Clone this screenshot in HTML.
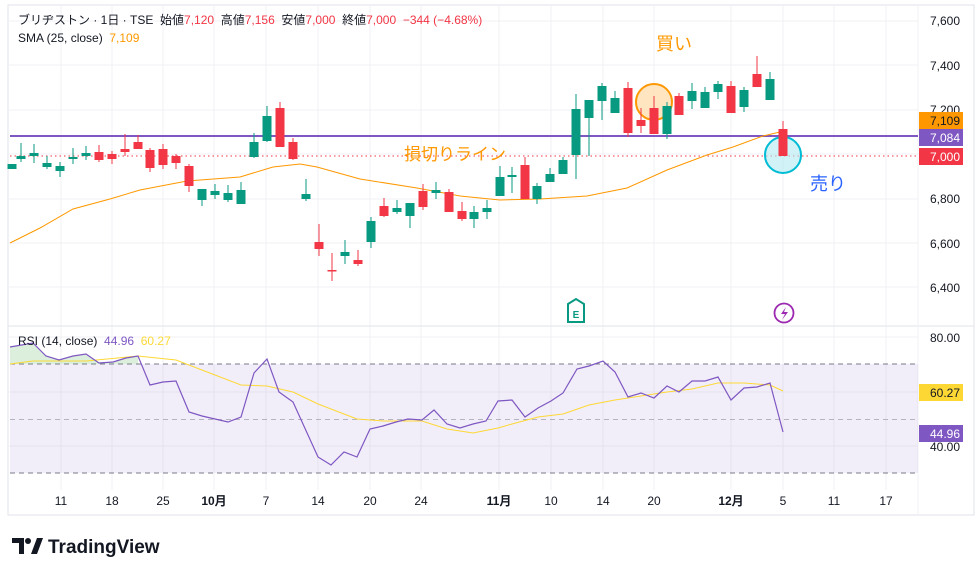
<!DOCTYPE html>
<html><head><meta charset="utf-8"><style>
body{margin:0;background:#fff;width:980px;height:575px;overflow:hidden;font-family:"Liberation Sans","Noto Sans CJK JP",sans-serif}
svg{position:absolute;left:0;top:0}
text{white-space:pre}
</style></head><body>
<svg width="980" height="575" xmlns="http://www.w3.org/2000/svg" font-family="Liberation Sans, Noto Sans CJK JP, sans-serif">
<rect x="8" y="5" width="966" height="510" fill="#fff" stroke="#e0e3eb"/>
<g stroke="#f0f1f4" stroke-width="1">
<line x1="61" y1="5" x2="61" y2="490"/><line x1="112" y1="5" x2="112" y2="490"/><line x1="163" y1="5" x2="163" y2="490"/><line x1="214" y1="5" x2="214" y2="490"/><line x1="266" y1="5" x2="266" y2="490"/><line x1="318" y1="5" x2="318" y2="490"/><line x1="370" y1="5" x2="370" y2="490"/><line x1="421" y1="5" x2="421" y2="490"/><line x1="499" y1="5" x2="499" y2="490"/><line x1="551" y1="5" x2="551" y2="490"/><line x1="603" y1="5" x2="603" y2="490"/><line x1="654" y1="5" x2="654" y2="490"/><line x1="731" y1="5" x2="731" y2="490"/><line x1="783" y1="5" x2="783" y2="490"/><line x1="834" y1="5" x2="834" y2="490"/><line x1="886" y1="5" x2="886" y2="490"/>
<line x1="8" y1="21" x2="918" y2="21"/><line x1="8" y1="65" x2="918" y2="65"/><line x1="8" y1="110" x2="918" y2="110"/><line x1="8" y1="154" x2="918" y2="154"/><line x1="8" y1="199" x2="918" y2="199"/><line x1="8" y1="243" x2="918" y2="243"/><line x1="8" y1="287" x2="918" y2="287"/>
<line x1="8" y1="337" x2="918" y2="337"/><line x1="8" y1="392" x2="918" y2="392"/><line x1="8" y1="446" x2="918" y2="446"/>
</g>
<line x1="8" y1="326" x2="974" y2="326" stroke="#e0e3eb"/>
<line x1="918" y1="5" x2="918" y2="515" stroke="#f0f1f4"/>
<line x1="10" y1="136" x2="918" y2="136" stroke="#7e57c2" stroke-width="2"/>
<line x1="10" y1="156" x2="918" y2="156" stroke="#f23645" stroke-dasharray="1.5,3" stroke-width="1"/>
<circle cx="654" cy="102" r="18" fill="#ffe0b2" fill-opacity="0.8" stroke="#ff9800" stroke-width="2"/>
<circle cx="783" cy="155" r="18" fill="#b2ebf2" fill-opacity="0.6" stroke="#00bcd4" stroke-width="2"/>
<polyline fill="none" stroke="#ff9800" stroke-width="1" points="10,243 40,228 73,209 110,199 140,190 187,181 240,177 273,167 300,164 317,167 360,179 417,188 460,196 500,200 540,199 587,196 627,188 667,170 707,155 733,147 763,136 780,132"/>
<g id="c"></g>
<text x="656" y="50" font-size="18" fill="#ff9800">買い</text>
<text x="404" y="160" font-size="17" fill="#ff9800">損切りライン</text>
<text x="810" y="190" font-size="18" fill="#2962ff">売り</text>
<path d="M568,304 L576,299 L584,304 L584,322 L568,322 Z" fill="none" stroke="#089981" stroke-width="2"/>
<text x="576" y="318" font-size="10" fill="#089981" text-anchor="middle" font-weight="bold">E</text>
<circle cx="784" cy="313" r="9.5" fill="none" stroke="#9c27b0" stroke-width="1.8"/>
<path d="M786,307 L781,314 L785,314 L782,320 L788,312 L784,312 Z" fill="#9c27b0"/>
<rect x="10" y="364" width="908" height="109" fill="#7e57c2" fill-opacity="0.1"/>
<g stroke="#787b86" stroke-dasharray="5,4" stroke-width="1"><line x1="10" y1="364" x2="918" y2="364"/><line x1="10" y1="473" x2="918" y2="473"/><line x1="10" y1="419.5" x2="918" y2="419.5" stroke-opacity="0.5"/></g>
<polygon points="10,347 33,343 46,356 59,360 73,356 86,354 99,363 113,362 126,358 138,356 138,364 10,364" fill="#4caf50" fill-opacity="0.2"/>
<polyline fill="none" stroke="#fdd835" stroke-width="1" points="10,364 33,361 86,361 138,356 176,360 215,375 241,385 267,386 293,392 318,404 344,414 357,419 383,421 422,421 447,429 473,433 498,428 512,424 538,417 563,414 589,405 615,400 641,396 667,392 692,389 718,383 744,383 770,385 783,391"/>
<polyline fill="none" stroke="#7e57c2" stroke-width="1.2" points="10,347 33,343 46,356 59,360 73,356 86,354 99,363 113,362 126,358 138,356 150,385 163,382 176,381 189,412 202,416 215,419 228,422 241,417 254,373 267,359 279,392 293,402 318,457 331,465 344,452 357,457 370,429 383,426 396,422 408,419 422,420 434,410 447,424 460,428 473,424 486,421 498,401 512,400 525,417 538,408 551,401 563,393 577,369 589,366 603,361 615,372 628,397 641,393 654,398 667,386 679,392 692,381 705,381 718,377 731,400 744,388 757,387 770,383 783,432"/>
<text x="18" y="24" font-size="12" fill="#131722">ブリヂストン · 1日 · TSE  始値<tspan fill="#f23645">7,120</tspan>  高値<tspan fill="#f23645">7,156</tspan>  安値<tspan fill="#f23645">7,000</tspan>  終値<tspan fill="#f23645">7,000  −344 (−4.68%)</tspan></text>
<text x="18" y="42" font-size="12" fill="#131722">SMA (25, close)  <tspan fill="#ff9800">7,109</tspan></text>
<text x="18" y="345" font-size="12" fill="#131722">RSI (14, close)  <tspan fill="#7e57c2">44.96</tspan>  <tspan fill="#fdd835">60.27</tspan></text>
<g font-size="12" fill="#131722" text-anchor="end">
<text x="960" y="25">7,600</text><text x="960" y="70">7,400</text><text x="960" y="114">7,200</text><text x="960" y="203">6,800</text><text x="960" y="248">6,600</text><text x="960" y="292">6,400</text>
<text x="960" y="342">80.00</text><text x="960" y="451">40.00</text>
</g>
<rect x="919" y="112" width="44" height="17" fill="#ff9800"/><text x="960" y="125" font-size="12" fill="#131722" text-anchor="end">7,109</text>
<rect x="919" y="129" width="44" height="17" fill="#7e57c2"/><text x="960" y="142" font-size="12" fill="#fff" text-anchor="end">7,084</text>
<rect x="919" y="148" width="44" height="17" fill="#f23645"/><text x="960" y="161" font-size="12" fill="#fff" text-anchor="end">7,000</text>
<rect x="919" y="384" width="44" height="17" fill="#fdd835"/><text x="960" y="397" font-size="12" fill="#131722" text-anchor="end">60.27</text>
<rect x="919" y="425" width="44" height="17" fill="#7e57c2"/><text x="960" y="438" font-size="12" fill="#fff" text-anchor="end">44.96</text>
<g font-size="12" fill="#131722" text-anchor="middle">
<text x="61" y="505">11</text><text x="112" y="505">18</text><text x="163" y="505">25</text><text x="214" y="505" font-weight="bold">10月</text><text x="266" y="505">7</text><text x="318" y="505">14</text><text x="370" y="505">20</text><text x="421" y="505">24</text><text x="499" y="505" font-weight="bold">11月</text><text x="551" y="505">10</text><text x="603" y="505">14</text><text x="654" y="505">20</text><text x="731" y="505" font-weight="bold">12月</text><text x="783" y="505">5</text><text x="834" y="505">11</text><text x="886" y="505">17</text>
</g>
<path d="M12,538 h12 v16 h-5 v-11 h-7 z" fill="#131722"/><circle cx="28" cy="541" r="3" fill="#131722"/><path d="M31,554 l6,-16 h6 l-6,16 z" fill="#131722"/>
<text x="48" y="553" font-size="19" font-weight="bold" fill="#131722">TradingView</text>
</svg>
<script>
var d=[[12,164,169,164,169,1],[21,143,162,156,159,1],[34,144,163,153,156,1],[47,156,169,163,167,1],[60,162,177,166,171,1],[73,148,164,157,159,1],[86,146,160,153,156,1],[99,145,162,152,160,0],[112,151,164,154,159,0],[125,134,156,149,152,0],[138,135,149,142,149,0],[150,148,172,150,168,0],[163,144,169,149,165,0],[176,154,169,156,163,0],[189,164,192,166,186,0],[202,189,206,189,200,1],[215,184,199,191,195,1],[228,185,202,193,200,1],[241,182,204,190,204,1],[254,133,158,142,157,1],[267,106,142,116,141,1],[280,102,147,108,147,0],[293,138,160,142,159,0],[306,179,201,194,199,1],[319,224,256,242,249,0],[332,253,281,270,271,0],[345,240,264,252,256,1],[358,250,266,260,264,0],[371,217,248,221,242,1],[384,198,217,206,216,0],[397,200,214,208,212,1],[410,203,228,203,216,1],[423,184,210,191,207,0],[436,182,199,190,193,1],[449,189,212,192,212,0],[462,202,221,211,219,0],[474,206,228,212,219,1],[487,200,219,208,212,1],[500,166,196,177,196,1],[512,167,193,175,177,1],[525,157,199,165,199,0],[537,183,204,186,199,1],[550,168,182,174,182,1],[563,157,174,160,174,1],[576,94,179,109,155,1],[589,100,156,100,118,1],[602,83,120,86,101,1],[615,91,113,98,113,1],[628,82,137,88,133,0],[641,108,133,120,126,0],[654,96,134,108,134,0],[667,102,139,106,134,1],[679,93,115,96,115,0],[692,83,109,91,101,1],[705,87,108,92,108,1],[718,81,99,84,92,1],[731,81,113,86,113,0],[744,87,112,90,107,1],[757,56,87,74,87,0],[770,72,100,79,100,1],[783,121,156,129,156,0]];
var s='';d.forEach(function(c){var col=c[5]?'#089981':'#f23645';s+='<line x1="'+c[0]+'" y1="'+c[1]+'" x2="'+c[0]+'" y2="'+c[2]+'" stroke="'+col+'"/><rect x="'+(c[0]-4.5)+'" y="'+c[3]+'" width="9" height="'+Math.max(1.5,c[4]-c[3])+'" fill="'+col+'"/>';});
document.getElementById('c').innerHTML=s;
</script>
</body></html>
